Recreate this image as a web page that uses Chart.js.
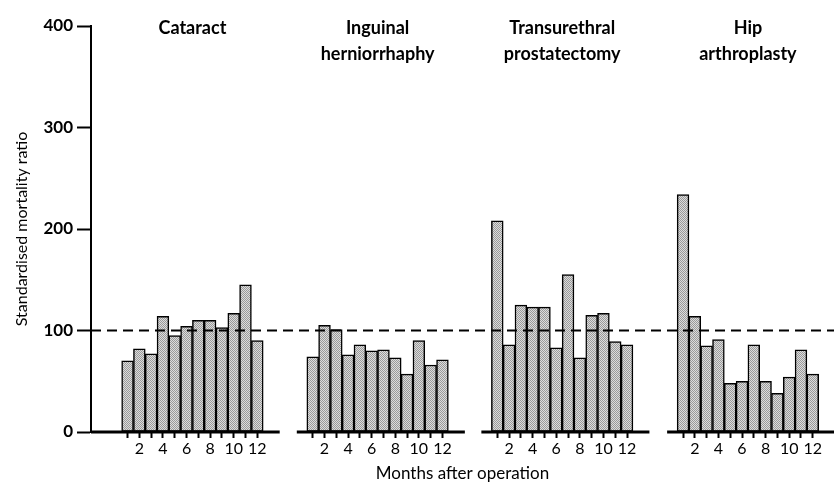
<!DOCTYPE html>
<html>
<head>
<meta charset="utf-8">
<script src="https://cdn.jsdelivr.net/npm/chart.js@4.4.1/dist/chart.umd.min.js"></script>
<style>
  html, body { margin: 0; padding: 0; background: #fff; }
</style>
</head>
<body>
<canvas id="chart" width="834" height="486"></canvas>
<script>
// data
const months = [1, 2, 3, 4, 5, 6, 7, 8, 9, 10, 11, 12]
const cataract = [70, 82, 77, 114, 95, 104, 110, 110, 103, 117, 145, 90]
const inguinal = [74, 105, 101, 76, 86, 80, 81, 73, 57, 90, 66, 71]
const prostatectomy = [208, 86, 125, 123, 123, 83, 155, 73, 115, 117, 89, 86]
const hip = [234, 114, 85, 91, 48, 50, 86, 50, 38, 54, 81, 57]
const panelTitles = [['Cataract'], ['Inguinal', 'herniorrhaphy'], ['Transurethral', 'prostatectomy'], ['Hip', 'arthroplasty']]
const yTicks = [0, 100, 200, 300, 400]
const referenceLine = 100

// layout: where each panel starts on the shared x axis (in bar widths)
const panelOffsets = [2.1, 17.8, 33.45, 49.2]
const seriesList = [cataract, inguinal, prostatectomy, hip]

const canvas = document.getElementById('chart')
const ctx = canvas.getContext('2d')

function stipple() {
  const c = document.createElement('canvas')
  c.width = 2
  c.height = 2
  const g = c.getContext('2d')
  g.fillStyle = '#dcdcdc'
  g.fillRect(0, 0, 2, 2)
  g.fillStyle = '#9a9a9a'
  g.fillRect(0, 0, 1, 1)
  g.fillRect(1, 1, 1, 1)
  return ctx.createPattern(c, 'repeat')
}
const fill = stipple()

const tickX = []
panelOffsets.forEach(off => months.forEach(m => tickX.push(off + m)))

const panelPlugin = {
  id: 'panels',
  afterDatasetsDraw(chart) {
    const { ctx, chartArea, scales: { x, y } } = chart
    ctx.save()
    ctx.strokeStyle = '#000'

    // broken baseline, one piece per panel
    ctx.lineWidth = 3
    const yb = y.getPixelForValue(0)
    panelOffsets.forEach((off, i) => {
      const x0 = i === 0 ? chartArea.left : x.getPixelForValue(off - 0.35)
      const x1 = i === panelOffsets.length - 1 ? chartArea.right : x.getPixelForValue(off + 13.9)
      ctx.beginPath()
      ctx.moveTo(x0, yb)
      ctx.lineTo(x1, yb)
      ctx.stroke()
    })

    // dashed line at SMR 100
    ctx.lineWidth = 2
    ctx.setLineDash([10, 6])
    const yr = y.getPixelForValue(referenceLine)
    ctx.beginPath()
    ctx.moveTo(chartArea.left, yr)
    ctx.lineTo(chartArea.right, yr)
    ctx.stroke()
    ctx.setLineDash([])

    // panel titles
    ctx.fillStyle = '#000'
    ctx.font = 'bold 18px Lato'
    ctx.textAlign = 'center'
    ctx.textBaseline = 'middle'
    panelTitles.forEach((lines, i) => {
      const cx = x.getPixelForValue(panelOffsets[i] + 6.5)
      lines.forEach((t, k) => ctx.fillText(t, cx, 28 + k * 26))
    })
    ctx.restore()
  }
}

new Chart(ctx, {
  type: 'bar',
  data: {
    datasets: seriesList.map((vals, i) => ({
      data: months.map((m, j) => ({ x: panelOffsets[i] + m, y: vals[j] })),
      backgroundColor: fill,
      borderColor: '#000',
      borderWidth: 1.5,
      borderSkipped: false,
      barThickness: 11.8,
      grouped: false
    }))
  },
  options: {
    responsive: false,
    animation: false,
    layout: { padding: { top: 26, left: 0, right: 0, bottom: 0 } },
    plugins: {
      legend: { display: false },
      tooltip: { enabled: false }
    },
    scales: {
      x: {
        type: 'linear',
        offset: false,
        min: 0,
        max: 63,
        afterBuildTicks: s => { s.ticks = tickX.map(v => ({ value: v })) },
        afterFit: s => { s.height = 54 },
        ticks: {
          autoSkip: false,
          maxRotation: 0,
          padding: 1,
          color: '#000',
          font: { family: 'Lato', size: 16 },
          callback: (v, i) => {
            const m = months[i % 12]
            return m % 2 === 0 ? String(m) : ''
          }
        },
        grid: { offset: false, drawOnChartArea: false, drawTicks: true, tickLength: 6, tickWidth: 2, tickColor: '#000' },
        border: { display: false },
        title: {
          display: true,
          text: 'Months after operation',
          color: '#000',
          font: { family: 'Lato', size: 17 },
          padding: { top: 0, bottom: 2 }
        }
      },
      y: {
        min: 0,
        max: 400,
        afterBuildTicks: s => { s.ticks = yTicks.map(v => ({ value: v })) },
        afterFit: s => { s.width = 91 },
        ticks: { color: '#000', padding: 4, font: { family: 'Lato', size: 17, weight: 'bold' } },
        grid: { drawOnChartArea: false, tickLength: 14, tickWidth: 2, tickColor: '#000' },
        border: { display: true, color: '#000', width: 2 },
        title: {
          display: true,
          text: 'Standardised mortality ratio',
          color: '#000',
          font: { family: 'Lato', size: 16 },
          padding: { top: 12, bottom: 0 }
        }
      }
    }
  },
  plugins: [panelPlugin]
})
</script>
</body>
</html>
